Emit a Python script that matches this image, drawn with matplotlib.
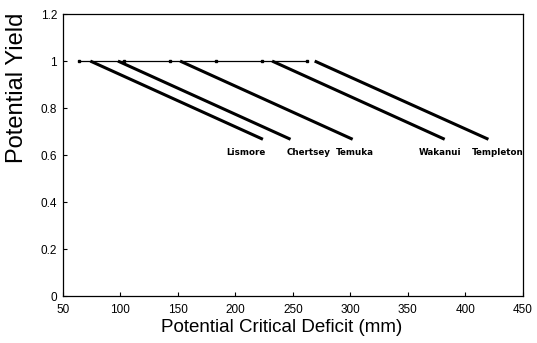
import matplotlib
matplotlib.use("Agg")
import matplotlib.pyplot as plt
import numpy as np

plt.rcParams["font.family"] = ["Liberation Sans", "DejaVu Sans"]

# critical deficit markers along yield = 1
marker_x = [64, 103, 143, 183, 223, 262]
marker_y = [1, 1, 1, 1, 1, 1]

# sites: start of decline (yield 1) and end (yield ~0.667)
sites = ["Lismore", "Chertsey", "Temuka", "Wakanui", "Templeton"]
start_x = [74, 98, 152, 232, 269]
end_x = [224, 248, 302, 382, 420]
start_y = [1, 1, 1, 1, 1]
end_y = [0.667, 0.667, 0.667, 0.667, 0.667]
label_x = [209, 264, 304, 378, 428]
label_y = 0.61

fig = plt.figure(figsize=(5.37, 3.43), dpi=100)
ax = fig.add_axes([0.1168, 0.137, 0.857, 0.822])

ax.plot(marker_x, marker_y, color="black", lw=0.9, marker="s", markersize=2)
for i in range(len(sites)):
    ax.plot([start_x[i], end_x[i]], [start_y[i], end_y[i]], color="black", lw=2.2,
            solid_capstyle="butt")
    ax.text(label_x[i], label_y, sites[i], ha="center", va="center",
            fontsize=6.3, fontweight="bold", family=["DejaVu Sans"])

ax.set_xlim(50, 450)
ax.set_ylim(0, 1.2)
ax.set_xticks(np.arange(50, 451, 50))
ax.set_yticks([0, 0.2, 0.4, 0.6, 0.8, 1.0, 1.2])
ax.set_yticklabels(["0", "0.2", "0.4", "0.6", "0.8", "1", "1.2"])
ax.tick_params(direction="in", length=3, width=0.8, labelsize=8.5, pad=6)
ax.tick_params(axis="y", pad=4)

ax.set_xlabel("Potential Critical Deficit (mm)", fontsize=13.5)
ax.xaxis.set_label_coords(0.476, -0.082)
ax.set_ylabel("Potential Yield", fontsize=17)
ax.yaxis.set_label_coords(-0.075, 0.738)

for s in ax.spines.values():
    s.set_linewidth(0.9)

fig.savefig("out.png", dpi=100)
